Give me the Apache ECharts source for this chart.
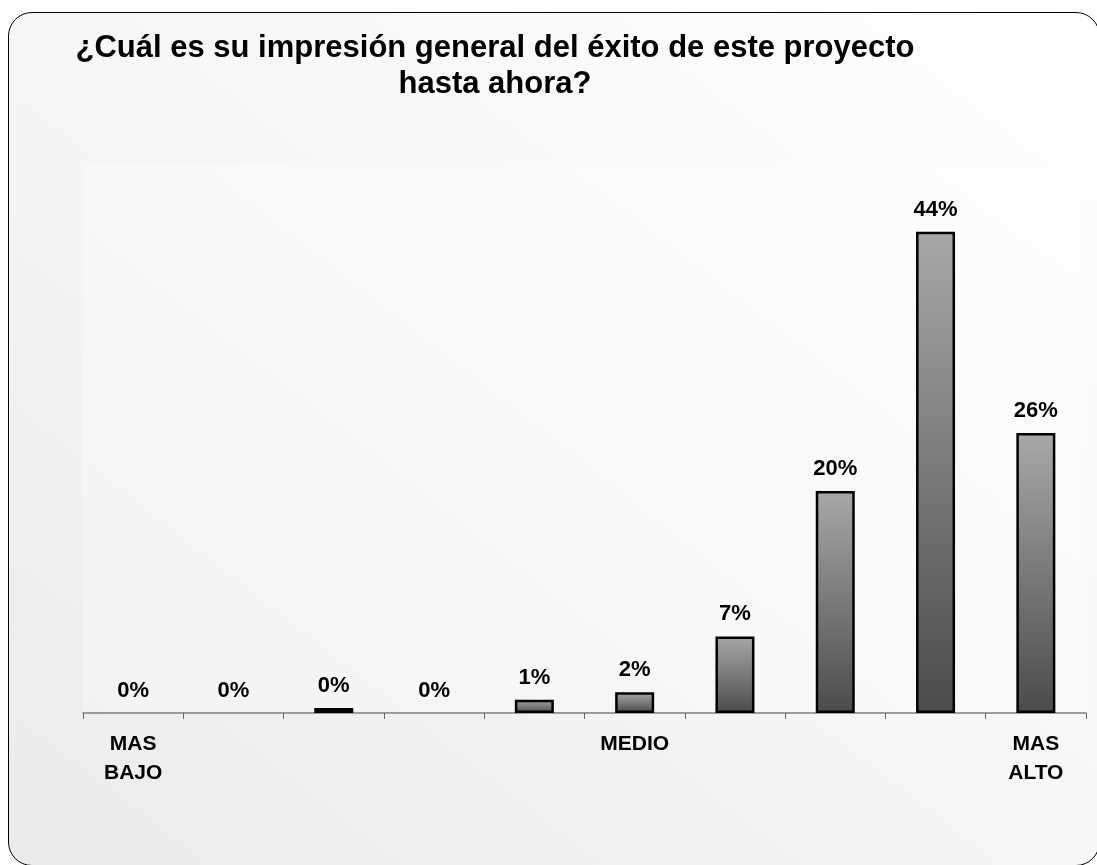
<!DOCTYPE html>
<html>
<head>
<meta charset="utf-8">
<script src="https://cdn.jsdelivr.net/npm/echarts@6/dist/echarts.min.js"></script>
<style>
  html, body {
    margin: 0;
    padding: 0;
    width: 1097px;
    height: 865px;
    overflow: hidden;
    background: #ffffff;
  }
  .frame {
    position: absolute;
    left: 8px;
    top: 12px;
    width: 1092px;
    height: 854px;
    box-sizing: border-box;
    border: 1.5px solid #000;
    border-radius: 24px;
    background: linear-gradient(to bottom left, #ffffff 0%, #f6f6f6 50%, #ebebeb 100%);
  }
  #chart {
    position: absolute;
    left: 0;
    top: 0;
    width: 1097px;
    height: 865px;
  }
</style>
</head>
<body>
<div class="frame"></div>
<div id="chart"></div>
<script>
const titleLines = ['¿Cuál es su impresión general del éxito de este proyecto', 'hasta ahora?']
const categories = ['MAS\nBAJO', '', '', '', '', 'MEDIO', '', '', '', 'MAS\nALTO']
const values = [0, 0, 0.45, 0, 1.2, 1.9, 7, 20.3, 44, 25.6]

const chart = echarts.init(document.getElementById('chart'))

const fontFamily = 'Arial, "Liberation Sans", sans-serif'

// zero bars show no outline in the original
const barData = values.map(v => (v === 0 ? { value: v, itemStyle: { borderWidth: 0 } } : v))

chart.setOption({
  backgroundColor: 'transparent',
  animation: false,
  title: {
    text: titleLines.join('\n'),
    left: 490,
    top: 25,
    textAlign: 'center',
    textStyle: {
      color: '#000',
      fontFamily: fontFamily,
      fontWeight: 'bold',
      fontSize: 31,
      lineHeight: 36
    }
  },
  grid: {
    left: 83,
    right: 11,
    top: 166,
    bottom: 152,
    show: true,
    borderWidth: 0,
    backgroundColor: 'rgba(255,255,255,0.3)'
  },
  xAxis: {
    type: 'category',
    data: categories,
    axisLine: {
      lineStyle: { color: '#7f7f7f', width: 1.5 }
    },
    axisTick: {
      show: true,
      length: 6,
      lineStyle: { color: '#666', width: 1 }
    },
    axisLabel: {
      interval: 0,
      margin: 17,
      color: '#000',
      fontFamily: fontFamily,
      fontWeight: 'bold',
      fontSize: 21,
      lineHeight: 29
    }
  },
  yAxis: {
    type: 'value',
    min: 0,
    max: 50,
    show: false,
    splitLine: { show: false }
  },
  series: [
    {
      type: 'bar',
      data: barData,
      barWidth: 39,
      itemStyle: {
        color: new echarts.graphic.LinearGradient(0, 0, 0, 1, [
          { offset: 0, color: '#a8a8a8' },
          { offset: 1, color: '#4b4b4b' }
        ]),
        borderColor: '#000',
        borderWidth: 2.5
      },
      label: {
        show: true,
        position: 'top',
        distance: 11,
        color: '#000',
        fontFamily: fontFamily,
        fontWeight: 'bold',
        fontSize: 22,
        formatter: p => Math.round(p.value) + '%'
      }
    }
  ]
})
</script>
</body>
</html>
